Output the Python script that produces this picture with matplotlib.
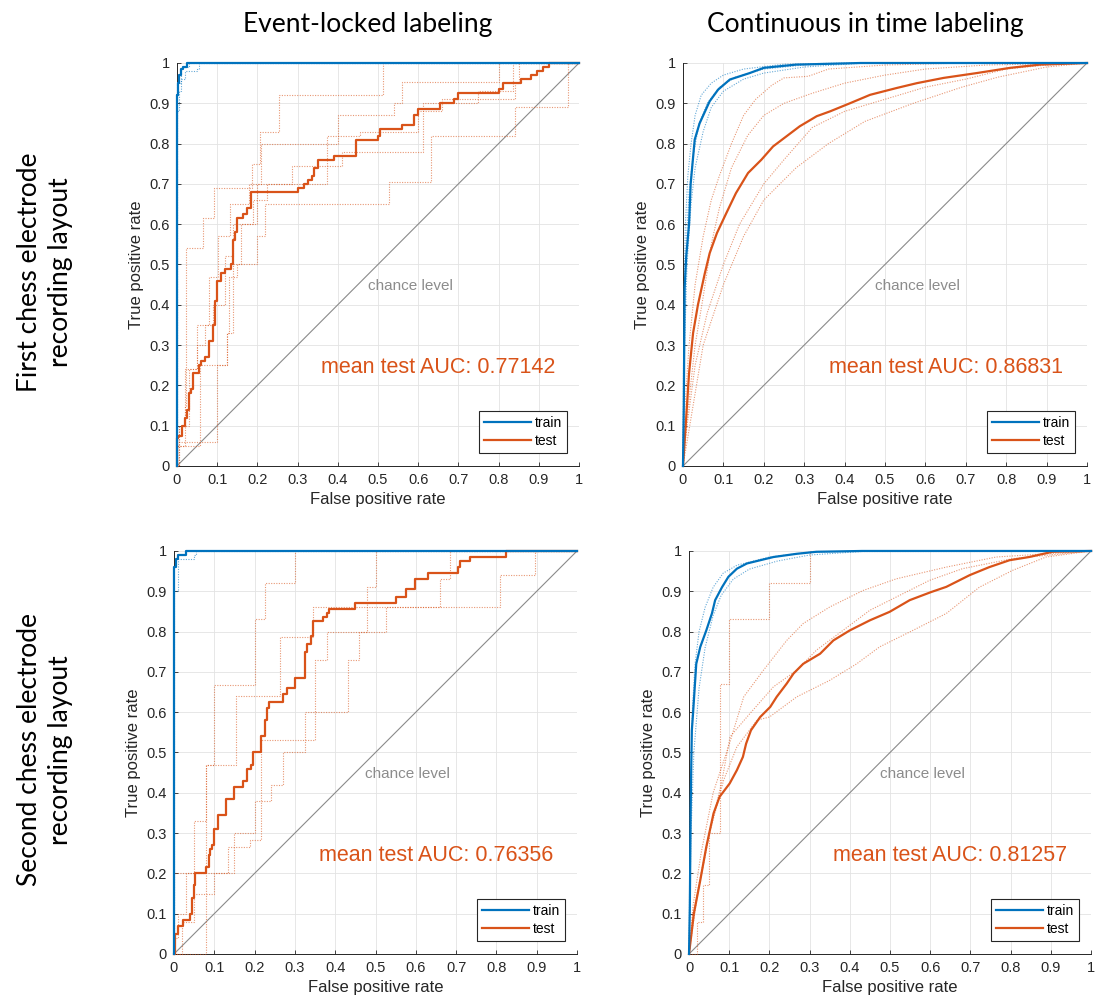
import numpy as np
import matplotlib.pyplot as plt

BLUE = '#0072BD'
ORANGE = '#D95319'

col_titles = ['Event-locked labeling', 'Continuous in time labeling']
row_titles = ['First chess electrode\nrecording layout',
              'Second chess electrode\nrecording layout']
auc_values = ['0.77142', '0.86831', '0.76356', '0.81257']
tick_vals = [0, 0.1, 0.2, 0.3, 0.4, 0.5, 0.6, 0.7, 0.8, 0.9, 1]
tick_labels = ['0', '0.1', '0.2', '0.3', '0.4', '0.5', '0.6', '0.7', '0.8', '0.9', '1']

# ---- first layout, event-locked (staircase ROC, points = (fpr, tpr after jump))
tl_train = [(0, 0), (0, 0.92), (0.003, 0.95), (0.006, 0.97), (0.01, 0.985),
            (0.015, 0.99), (0.025, 1.0), (1, 1)]
tl_test = [(0, 0), (0, 0.07), (0.003, 0.075), (0.012, 0.10), (0.02, 0.12), (0.025, 0.14),
           (0.03, 0.18), (0.035, 0.19), (0.04, 0.23), (0.055, 0.25), (0.06, 0.26),
           (0.07, 0.27), (0.08, 0.31), (0.09, 0.35), (0.095, 0.41), (0.10, 0.46),
           (0.11, 0.48), (0.12, 0.49), (0.135, 0.50), (0.14, 0.56), (0.145, 0.58),
           (0.15, 0.615), (0.165, 0.625), (0.175, 0.64), (0.185, 0.68), (0.30, 0.69),
           (0.315, 0.70), (0.325, 0.71), (0.335, 0.72), (0.34, 0.74), (0.35, 0.76),
           (0.39, 0.77), (0.445, 0.81), (0.50, 0.82), (0.505, 0.835), (0.56, 0.845),
           (0.59, 0.87), (0.60, 0.885), (0.655, 0.90), (0.69, 0.91), (0.70, 0.925),
           (0.80, 0.935), (0.81, 0.95), (0.855, 0.96), (0.88, 0.97), (0.895, 0.98),
           (0.91, 0.99), (0.925, 1.0), (1, 1)]
tl_train_folds = [
    [(0, 0), (0, 0.88), (0.005, 0.93), (0.01, 0.96), (0.02, 0.98), (0.05, 0.985), (0.055, 1.0), (1, 1)],
    [(0, 0), (0, 0.95), (0.01, 0.99), (0.03, 1.0), (1, 1)],
]
tl_test_folds = [
    [(0, 0), (0, 0.05), (0.02, 0.15), (0.022, 0.54), (0.066, 0.615), (0.091, 0.69),
     (0.186, 0.75), (0.207, 0.83), (0.255, 0.92), (0.513, 1.0), (1, 1)],
    [(0, 0), (0.005, 0.1), (0.02, 0.24), (0.05, 0.35), (0.08, 0.47), (0.103, 0.57),
     (0.132, 0.65), (0.18, 0.70), (0.21, 0.8), (0.40, 0.87), (0.54, 0.90),
     (0.56, 0.952), (0.80, 1.0), (1, 1)],
    [(0, 0), (0, 0.05), (0.058, 0.25), (0.124, 0.33), (0.14, 0.5), (0.199, 0.57),
     (0.22, 0.65), (0.528, 0.705), (0.633, 0.82), (0.84, 0.89), (0.973, 1.0), (1, 1)],
    [(0, 0), (0, 0.06), (0.10, 0.25), (0.125, 0.33), (0.13, 0.47), (0.15, 0.5),
     (0.16, 0.6), (0.19, 0.66), (0.225, 0.70), (0.287, 0.745), (0.41, 0.78),
     (0.613, 0.90), (0.75, 0.93), (0.836, 1.0), (1, 1)],
    [(0, 0), (0.005, 0.1), (0.03, 0.24), (0.05, 0.3), (0.07, 0.35), (0.09, 0.4),
     (0.12, 0.52), (0.14, 0.6), (0.2, 0.7), (0.372, 0.82), (0.455, 0.83),
     (0.60, 0.88), (0.66, 0.91), (0.84, 0.95), (0.85, 1.0), (1, 1)],
]

# ---- first layout, continuous labeling
tr_train = [(0, 0), (0.002, 0.15), (0.004, 0.44), (0.008, 0.52), (0.015, 0.6), (0.019, 0.7),
            (0.029, 0.81), (0.041, 0.85), (0.066, 0.905), (0.087, 0.934), (0.116, 0.959),
            (0.165, 0.975), (0.2, 0.988), (0.28, 0.996), (0.44, 1.0), (1, 1)]
tr_test = [(0, 0), (0.007, 0.106), (0.015, 0.23), (0.025, 0.33), (0.037, 0.40), (0.054, 0.478),
           (0.066, 0.528), (0.084, 0.578), (0.107, 0.627), (0.131, 0.677), (0.161, 0.727),
           (0.194, 0.76), (0.223, 0.793), (0.256, 0.818), (0.289, 0.843), (0.331, 0.868),
           (0.364, 0.88), (0.413, 0.90), (0.463, 0.921), (0.529, 0.938), (0.579, 0.95),
           (0.645, 0.963), (0.727, 0.975), (0.81, 0.988), (0.884, 0.996), (1, 1)]
tr_train_folds = [
    [(0, 0), (0.002, 0.4), (0.006, 0.6), (0.012, 0.72), (0.02, 0.8), (0.03, 0.87), (0.045, 0.92),
     (0.07, 0.95), (0.1, 0.97), (0.15, 0.985), (0.25, 0.997), (0.4, 1.0), (1, 1)],
    [(0, 0), (0.004, 0.3), (0.01, 0.5), (0.02, 0.65), (0.03, 0.74), (0.05, 0.83), (0.07, 0.89),
     (0.1, 0.93), (0.15, 0.96), (0.2, 0.975), (0.3, 0.99), (0.45, 1.0), (1, 1)],
    [(0, 0), (0.003, 0.35), (0.008, 0.55), (0.015, 0.68), (0.025, 0.77), (0.04, 0.85), (0.06, 0.9),
     (0.09, 0.94), (0.13, 0.965), (0.2, 0.985), (0.3, 0.995), (0.45, 1.0), (1, 1)],
]
tr_test_folds = [
    [(0, 0), (0.005, 0.15), (0.015, 0.3), (0.03, 0.45), (0.05, 0.57), (0.07, 0.66), (0.09, 0.72),
     (0.12, 0.8), (0.15, 0.87), (0.18, 0.91), (0.22, 0.945), (0.25, 0.963), (0.31, 0.967),
     (0.36, 0.985), (0.5, 0.995), (0.7, 1.0), (1, 1)],
    [(0, 0), (0.01, 0.12), (0.03, 0.3), (0.05, 0.42), (0.07, 0.55), (0.09, 0.64), (0.12, 0.74),
     (0.16, 0.82), (0.2, 0.87), (0.25, 0.9), (0.32, 0.925), (0.4, 0.95), (0.5, 0.97),
     (0.6, 0.985), (0.75, 0.995), (1, 1)],
    [(0, 0), (0.01, 0.1), (0.03, 0.25), (0.06, 0.38), (0.1, 0.5), (0.14, 0.6), (0.2, 0.7),
     (0.25, 0.76), (0.32, 0.84), (0.4, 0.88), (0.5, 0.91), (0.6, 0.94), (0.7, 0.96),
     (0.8, 0.985), (0.9, 0.995), (1, 1)],
    [(0, 0), (0.02, 0.12), (0.05, 0.3), (0.1, 0.45), (0.15, 0.57), (0.2, 0.66), (0.28, 0.74),
     (0.36, 0.8), (0.45, 0.855), (0.57, 0.9), (0.69, 0.94), (0.78, 0.965), (0.9, 0.99), (1, 1)],
]

# ---- second layout, event-locked
bl_train = [(0, 0), (0, 0.96), (0.005, 0.98), (0.01, 0.99), (0.03, 1.0), (1, 1)]
bl_test = [(0, 0), (0.002, 0.05), (0.01, 0.07), (0.022, 0.085), (0.04, 0.10), (0.045, 0.14),
           (0.05, 0.17), (0.053, 0.20), (0.08, 0.215), (0.088, 0.245), (0.09, 0.26),
           (0.095, 0.27), (0.10, 0.31), (0.11, 0.345), (0.13, 0.385), (0.148, 0.415),
           (0.17, 0.43), (0.18, 0.46), (0.19, 0.47), (0.195, 0.50), (0.215, 0.54),
           (0.225, 0.58), (0.23, 0.61), (0.235, 0.625), (0.27, 0.645), (0.28, 0.66),
           (0.30, 0.685), (0.325, 0.75), (0.33, 0.77), (0.34, 0.79), (0.345, 0.825),
           (0.37, 0.835), (0.38, 0.845), (0.385, 0.855), (0.45, 0.87), (0.55, 0.885),
           (0.575, 0.905), (0.598, 0.93), (0.63, 0.945), (0.705, 0.96), (0.71, 0.975),
           (0.735, 0.985), (0.825, 1.0), (1, 1)]
bl_train_folds = [
    [(0, 0), (0, 0.9), (0.01, 0.98), (0.05, 0.99), (0.055, 1.0), (1, 1)],
]
bl_test_folds = [
    [(0, 0), (0, 0.04), (0.01, 0.1), (0.03, 0.2), (0.05, 0.33), (0.08, 0.47), (0.1, 0.667),
     (0.2, 0.832), (0.225, 0.92), (0.3, 1.0), (1, 1)],
    [(0, 0), (0, 0.2), (0.134, 0.266), (0.188, 0.283), (0.217, 0.532), (0.35, 0.73),
     (0.38, 0.8), (0.527, 0.86), (0.81, 0.94), (0.895, 1.0), (1, 1)],
    [(0, 0), (0.08, 0.47), (0.155, 0.64), (0.262, 0.787), (0.345, 0.86), (0.66, 0.93),
     (0.684, 1.0), (1, 1)],
    [(0, 0), (0.02, 0.08), (0.05, 0.15), (0.1, 0.2), (0.15, 0.3), (0.2, 0.38), (0.24, 0.42),
     (0.27, 0.5), (0.324, 0.6), (0.432, 0.73), (0.458, 0.8), (0.478, 0.91), (0.5, 1.0), (1, 1)],
]

# ---- second layout, continuous labeling
br_train = [(0, 0), (0.002, 0.117), (0.004, 0.349), (0.005, 0.43), (0.007, 0.555), (0.01, 0.597),
            (0.018, 0.72), (0.028, 0.762), (0.043, 0.803), (0.057, 0.845), (0.065, 0.878),
            (0.082, 0.91), (0.098, 0.936), (0.119, 0.956), (0.144, 0.969), (0.177, 0.977),
            (0.21, 0.985), (0.268, 0.993), (0.317, 0.998), (0.43, 1.0), (1, 1)]
br_test = [(0, 0), (0.012, 0.1), (0.028, 0.183), (0.043, 0.266), (0.061, 0.349), (0.076, 0.39),
           (0.101, 0.423), (0.119, 0.456), (0.134, 0.489), (0.142, 0.522), (0.154, 0.555),
           (0.177, 0.588), (0.202, 0.613), (0.218, 0.638), (0.243, 0.671), (0.26, 0.696),
           (0.284, 0.72), (0.326, 0.745), (0.359, 0.778), (0.40, 0.803), (0.45, 0.828),
           (0.499, 0.849), (0.549, 0.878), (0.602, 0.898), (0.64, 0.911), (0.698, 0.94),
           (0.747, 0.96), (0.797, 0.977), (0.846, 0.985), (0.904, 0.998), (1, 1)]
br_train_folds = [
    [(0, 0), (0.003, 0.35), (0.008, 0.6), (0.015, 0.72), (0.025, 0.8), (0.04, 0.86), (0.06, 0.91),
     (0.085, 0.945), (0.12, 0.965), (0.2, 0.985), (0.3, 0.997), (0.45, 1.0), (1, 1)],
    [(0, 0), (0.005, 0.3), (0.012, 0.5), (0.025, 0.66), (0.04, 0.76), (0.06, 0.84), (0.08, 0.89),
     (0.11, 0.93), (0.15, 0.955), (0.22, 0.975), (0.3, 0.99), (0.45, 1.0), (1, 1)],
]
br_test_folds = [
    [(0, 0), (0.02, 0.142), (0.053, 0.307), (0.086, 0.431), (0.119, 0.514), (0.169, 0.58),
     (0.2, 0.588), (0.268, 0.638), (0.35, 0.679), (0.417, 0.72), (0.474, 0.762),
     (0.557, 0.803), (0.64, 0.845), (0.722, 0.91), (0.805, 0.952), (0.888, 0.985), (1, 1)],
    [(0, 0), (0.01, 0.1), (0.03, 0.2), (0.05, 0.3), (0.08, 0.42), (0.102, 0.539),
     (0.144, 0.588), (0.21, 0.663), (0.268, 0.704), (0.317, 0.754), (0.383, 0.803),
     (0.45, 0.853), (0.516, 0.886), (0.598, 0.927), (0.68, 0.956), (0.805, 0.981), (1, 1)],
    [(0, 0), (0.01, 0.12), (0.03, 0.25), (0.06, 0.4), (0.1, 0.52), (0.136, 0.638),
     (0.185, 0.704), (0.243, 0.778), (0.284, 0.82), (0.35, 0.861), (0.433, 0.902),
     (0.516, 0.931), (0.64, 0.96), (0.764, 0.985), (1, 1)],
]
br_step_fold = [(0, 0), (0.02, 0.08), (0.035, 0.17), (0.05, 0.3), (0.078, 0.4), (0.078, 0.67),
                (0.1, 0.832), (0.2, 0.92), (0.3, 1.0), (1, 1)]

panels = [
    (tl_train, tl_test, tl_train_folds, tl_test_folds, 'steps-post'),
    (tr_train, tr_test, tr_train_folds, tr_test_folds, 'default'),
    (bl_train, bl_test, bl_train_folds, bl_test_folds, 'steps-post'),
    (br_train, br_test, br_train_folds, br_test_folds, 'default'),
]
# axes rectangles in figure fractions [left, bottom, width, height]
rects = [
    [0.1613, 0.5377, 0.3665, 0.3998],
    [0.6226, 0.5377, 0.3683, 0.3998],
    [0.1586, 0.0536, 0.3674, 0.3998],
    [0.6281, 0.0536, 0.3665, 0.3998],
]

AX_FONT = 'Liberation Sans'
TITLE_FONT = ['Lato', 'DejaVu Sans']


def roc_line(ax, pts, ds, **kw):
    x, y = np.array(pts).T
    return ax.plot(x, y, drawstyle=ds, clip_on=False, **kw)[0]


fig = plt.figure(figsize=(10.97, 10.08), dpi=100)

for i, (train, test, trf, tef, ds) in enumerate(panels):
    ax = fig.add_axes(rects[i])
    ax.set_xlim(0, 1)
    ax.set_ylim(0, 1)
    ax.grid(True, color='#e3e3e3', lw=0.6)
    ax.set_axisbelow(True)
    for s in ['top', 'right']:
        ax.spines[s].set_visible(False)
    for s in ['left', 'bottom']:
        ax.spines[s].set_color('#262626')
        ax.spines[s].set_linewidth(0.7)
    ax.set_xticks(tick_vals)
    ax.set_yticks(tick_vals)
    ax.set_xticklabels(tick_labels, fontfamily=AX_FONT)
    ax.set_yticklabels(tick_labels, fontfamily=AX_FONT)
    ax.tick_params(direction='in', length=3, width=0.6, colors='#262626',
                   labelsize=10.5, pad=5)
    ax.set_xlabel('False positive rate', fontfamily=AX_FONT, fontsize=12, color='#262626')
    ax.set_ylabel('True positive rate', fontfamily=AX_FONT, fontsize=12, color='#262626')

    # chance level
    ax.plot([0, 1], [0, 1], color='#8a8a8a', lw=0.8, zorder=2)
    ax.text(0.58, 0.447, 'chance level', color='#8c8c8c', fontsize=11,
            fontfamily=AX_FONT, ha='center', va='center')

    fold_kw = dict(lw=0.8, ls=(0, (1, 1.3)), alpha=0.6, zorder=3)
    for f in tef:
        roc_line(ax, f, ds, color=ORANGE, **fold_kw)
    if i == 3:
        roc_line(ax, br_step_fold, 'steps-post', color=ORANGE, **fold_kw)
    for f in trf:
        roc_line(ax, f, ds, color=BLUE, **fold_kw)

    h_train = roc_line(ax, train, ds, color=BLUE, lw=1.6, zorder=5, label='train')
    h_test = roc_line(ax, test, ds, color=ORANGE, lw=1.6, zorder=4, label='test')

    ax.text(0.65, 0.245, 'mean test AUC: ' + auc_values[i], color=ORANGE,
            fontsize=15.5, fontfamily=AX_FONT, ha='center', va='center')

    leg = ax.legend(handles=[h_train, h_test], loc='lower right',
                    bbox_to_anchor=(0.97, 0.032), borderaxespad=0,
                    prop={'family': AX_FONT, 'size': 10}, fancybox=False,
                    framealpha=1, edgecolor='#262626', handlelength=3.4,
                    handletextpad=0.25, labelspacing=0.3, borderpad=0.35)
    leg.get_frame().set_linewidth(0.8)

# column and row headings
fig.text(0.3355, 0.976, col_titles[0], fontsize=19, family=TITLE_FONT, ha='center', va='center')
fig.text(0.7885, 0.976, col_titles[1], fontsize=19, family=TITLE_FONT, ha='center', va='center')
fig.text(0.041, 0.730, row_titles[0], fontsize=19, family=TITLE_FONT, rotation=90,
         ha='center', va='center', multialignment='center', linespacing=1.3)
fig.text(0.041, 0.256, row_titles[1], fontsize=19, family=TITLE_FONT, rotation=90,
         ha='center', va='center', multialignment='center', linespacing=1.3)

fig.savefig('out.png', dpi=100)
